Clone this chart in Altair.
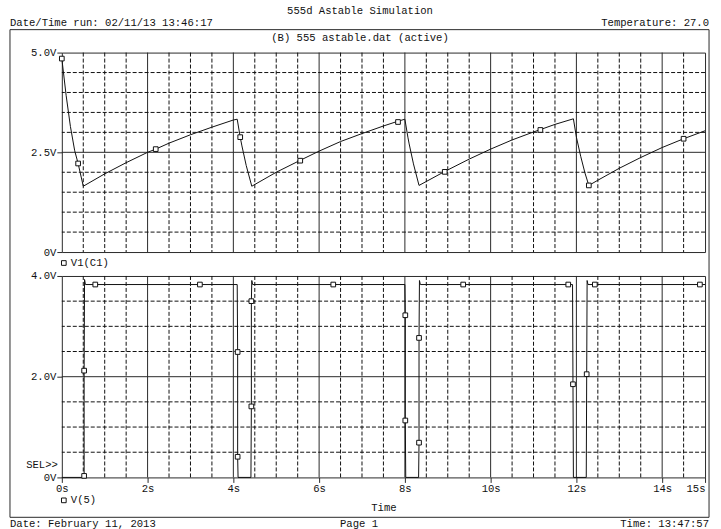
import altair as alt
import pandas as pd

# ---------------- data ----------------
# V1(C1): capacitor voltage (top panel)
cap_t = [0.0, 0.1, 0.2, 0.3, 0.38, 0.5, 1.0, 1.5, 2.0, 2.19, 2.5, 3.0, 3.5, 4.0, 4.09,
         4.16, 4.2, 4.3, 4.43, 5.0, 5.56, 6.0, 6.5, 7.0, 7.5, 7.84, 8.0,
         8.07, 8.1, 8.2, 8.33, 8.93, 9.5, 10.0, 10.5, 11.0, 11.16, 11.5, 11.93,
         12.0, 12.1, 12.2, 12.29, 12.5, 13.0, 13.5, 14.0, 14.5, 15.0]
cap_v = [4.85, 3.93, 3.15, 2.54, 2.22, 1.65, 1.96, 2.24, 2.50, 2.58, 2.73, 2.94, 3.13, 3.31, 3.33,
         2.88, 2.66, 2.17, 1.65, 2.00, 2.30, 2.53, 2.77, 2.97, 3.16, 3.28, 3.33,
         2.88, 2.71, 2.21, 1.67, 2.02, 2.33, 2.58, 2.81, 3.01, 3.07, 3.20, 3.34,
         2.88, 2.40, 1.98, 1.67, 1.80, 2.10, 2.37, 2.62, 2.84, 3.04]
cap_mk_t = [0.0, 0.38, 2.19, 4.16, 5.56, 7.84, 8.93, 11.16, 12.29, 14.5]
cap_mk_v = [4.85, 2.22, 2.58, 2.88, 2.29, 3.26, 2.01, 3.06, 1.67, 2.84]

# V(5): output voltage (bottom panel)
out_t = [0.0, 0.51, 0.52, 0.52, 0.53, 0.55, 4.09, 4.10, 4.10, 4.11, 4.41, 4.42, 4.42, 4.43, 4.45,
         8.00, 8.01, 8.01, 8.02, 8.32, 8.33, 8.33, 8.34, 8.36, 11.91, 11.92, 11.93,
         12.23, 12.24, 12.25, 12.27, 15.0]
out_v = [0.0, 0.0, 0.03, 2.12, 3.93, 3.83, 3.83, 2.49, 0.41, 0.0, 0.0, 1.41, 3.50, 3.91, 3.83,
         3.83, 3.22, 1.13, 0.0, 0.0, 0.69, 2.77, 3.91, 3.83, 3.83, 1.85, 0.0,
         0.0, 2.05, 3.91, 3.83, 3.83]
out_mk_t = [0.52, 0.52, 0.78, 3.22, 4.10, 4.10, 4.42, 4.42, 6.33, 8.01, 8.01, 8.33, 8.33,
            9.36, 11.81, 11.92, 12.24, 12.43, 14.88]
out_mk_v = [0.03, 2.12, 3.83, 3.83, 2.49, 0.41, 1.41, 3.50, 3.83, 3.22, 1.13, 2.77, 0.69,
            3.83, 3.83, 1.85, 2.05, 3.83, 3.83]

# grid / ticks
t_minor = [0.5, 1, 1.5, 2.5, 3, 3.5, 4.5, 5, 5.5, 6.5, 7, 7.5, 8.5, 9, 9.5,
           10.5, 11, 11.5, 12.5, 13, 13.5, 14.5]
t_major = [2, 4, 6, 8, 10, 12, 14]
t_ticks = [0, 2, 4, 6, 8, 10, 12, 14, 15]
top_minor = [0.5, 1.0, 1.5, 2.0, 3.0, 3.5, 4.0, 4.5]
top_major = [2.5]
top_ticks = [0, 2.5, 5]
bot_minor = [0.5, 1.0, 1.5, 2.5, 3.0, 3.5]
bot_major = [2.0]
bot_ticks = [0, 2, 4]

# texts
TITLE = "555d Astable Simulation"
RUN = "Date/Time run: 02/11/13 13:46:17"
TEMP = "Temperature: 27.0"
SECTION = "(B) 555 astable.dat (active)"
TRACE1 = "V1(C1)"
TRACE2 = "V(5)"
SEL = "SEL>>"
DATE = "Date: February 11, 2013"
PAGE = "Page 1"
TIME = "Time: 13:47:57"

# ---------------- styling ----------------
FONT = "Liberation Mono"
FS = 10.6
INK = "#111111"
SOLID = "#2a2a2a"
DASH = [4, 2]
W = 645

one = pd.DataFrame({"a": [0]})
cap = pd.DataFrame({"t": cap_t, "v": cap_v, "i": range(len(cap_t))})
cap_mk = pd.DataFrame({"t": cap_mk_t, "v": cap_mk_v})
out = pd.DataFrame({"t": out_t, "v": out_v, "i": range(len(out_t))})
out_mk = pd.DataFrame({"t": out_mk_t, "v": out_mk_v})

xscale = alt.Scale(domain=[0, 15], nice=False, zero=False)


def text(s, x, y, align="left"):
    return alt.Chart(one).mark_text(
        text=s, align=align, baseline="middle", font=FONT, fontSize=FS, color=INK
    ).encode(x=alt.value(x), y=alt.value(y))


def square_at(x, y):
    return alt.Chart(one).mark_square(
        size=22, fill="white", stroke=INK, strokeWidth=1, opacity=1
    ).encode(x=alt.value(x), y=alt.value(y))


def panel(df, mk, ymax, y_minor, y_major, y_ticks, xaxis):
    yscale = alt.Scale(domain=[0, ymax], nice=False, zero=True)
    yaxis = alt.Axis(
        values=y_ticks,
        labelExpr="datum.value == 0 ? '0V' : format(datum.value, '.1f') + 'V'",
        tickSize=5, labelPadding=1, title=None, zindex=1,
    )
    X = lambda: alt.X("t:Q", scale=xscale, axis=xaxis, title="Time" if xaxis else None)
    Y = lambda: alt.Y("v:Q", scale=yscale, axis=yaxis)
    vmin = alt.Chart(pd.DataFrame({"t": t_minor})).mark_rule(
        color=INK, strokeWidth=1, strokeDash=DASH).encode(x=X())
    vmaj = alt.Chart(pd.DataFrame({"t": t_major})).mark_rule(
        color=SOLID, strokeWidth=1).encode(x=X())
    hmin = alt.Chart(pd.DataFrame({"v": y_minor})).mark_rule(
        color=INK, strokeWidth=1, strokeDash=DASH).encode(y=Y())
    hmaj = alt.Chart(pd.DataFrame({"v": y_major})).mark_rule(
        color=SOLID, strokeWidth=1).encode(y=Y())
    line = alt.Chart(df).mark_line(color=INK, strokeWidth=1).encode(
        x=X(), y=Y(), order="i:Q")
    pts = alt.Chart(mk).mark_square(
        size=22, fill="white", stroke=INK, strokeWidth=1, opacity=1
    ).encode(x=X(), y=Y())
    return [vmin, vmaj, hmin, hmaj, line, pts]


# top panel (origin at page x=61, y=51)
top_layers = panel(cap, cap_mk, 5, top_minor, top_major, top_ticks, None)
# invisible rectangle spanning the whole page, so the page origin is fixed
page = alt.Chart(one).mark_rect(fillOpacity=0, strokeOpacity=0).encode(
    x=alt.value(-61), x2=alt.value(660), y=alt.value(-51), y2=alt.value(478))
frame = alt.Chart(one).mark_rect(fillOpacity=0, stroke=SOLID, strokeWidth=1).encode(
    x=alt.value(-52), x2=alt.value(649), y=alt.value(-23), y2=alt.value(466))
top = alt.layer(
    page, frame, *top_layers,
    text(TITLE, 299, -42, "center"),
    text(RUN, -52, -30, "left"),
    text(TEMP, 649, -30, "right"),
    text(SECTION, 299, -15, "center"),
    square_at(2, 211),
    text(TRACE1, 9, 211, "left"),
).properties(width=W, height=200)

# bottom panel (origin at page x=61, y=275)
xaxis = alt.Axis(
    values=t_ticks, labelExpr="datum.value + 's'", tickSize=5, labelPadding=1,
    titlePadding=9, zindex=1,
    labelAlign={"condition": {"test": "datum.value == 15", "value": "right"}, "value": "center"},
)
bot_layers = panel(out, out_mk, 4, bot_minor, bot_major, bot_ticks, xaxis)
bottom = alt.layer(
    *bot_layers,
    text(SEL, -4, 190, "right"),
    square_at(2, 225),
    text(TRACE2, 9, 225, "left"),
    text(DATE, -52, 248.5, "left"),
    text(PAGE, 298, 249, "center"),
    text(TIME, 649, 249, "right"),
).properties(width=W, height=202)

chart = alt.vconcat(top, bottom, spacing=24, bounds="flush").properties(
    padding=0, background="white"
).configure_view(
    stroke=SOLID, strokeWidth=1
).configure_axis(
    labelFont=FONT, labelFontSize=FS, labelColor=INK,
    titleFont=FONT, titleFontSize=FS, titleFontWeight="normal", titleColor=INK,
    tickColor=SOLID, domain=False, grid=False,
)

chart.save("out.html", embed_options={"renderer": "svg", "actions": False})
